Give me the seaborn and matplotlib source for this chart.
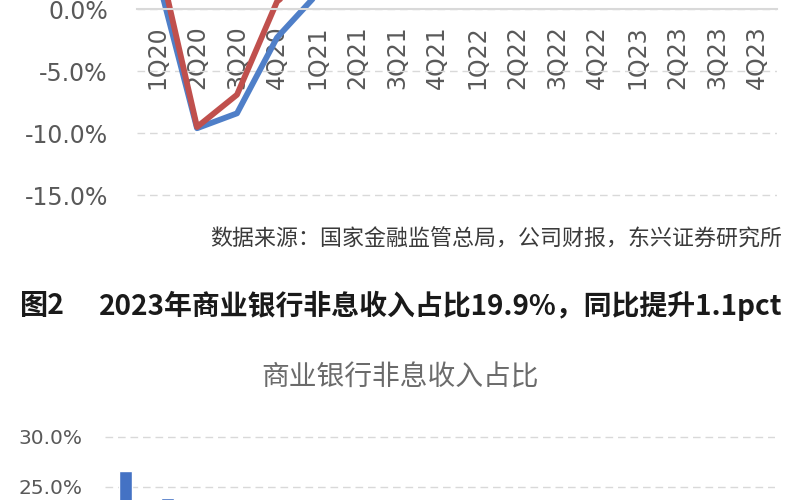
import matplotlib
matplotlib.use("Agg")
import matplotlib.pyplot as plt
import seaborn as sns
import pandas as pd
from matplotlib.ticker import FuncFormatter

quarters = ["1Q20", "2Q20", "3Q20", "4Q20", "1Q21", "2Q21", "3Q21", "4Q21",
            "1Q22", "2Q22", "3Q22", "4Q22", "1Q23", "2Q23", "3Q23", "4Q23"]
# top chart: two yoy growth series (only the dip is visible in the crop)
red_vals = [4.6, -9.5, -6.9, 0.6, 3.2, 4.5, 6.0, 6.5, 5.5, 6.0, 5.0, 4.0, 3.0, 2.5, 2.0, 1.8]
blue_vals = [2.8, -9.6, -8.4, -2.3, 1.2, 3.5, 5.0, 5.8, 5.0, 5.5, 4.6, 3.6, 2.8, 2.2, 1.9, 1.6]
# bottom chart: non-interest income share (%)
share_vals = [26.6, 23.9, 22.2, 21.0, 23.3, 22.0, 21.0, 20.4,
              23.1, 21.1, 19.7, 18.8, 22.0, 21.2, 20.3, 19.9]

caption = "数据来源：国家金融监管总局，公司财报，东兴证券研究所"
fig_no = "图2"
fig_title = "2023年商业银行非息收入占比19.9%，同比提升1.1pct"
sub_title = "商业银行非息收入占比"

sns.set_style("white")
cjk = ["Noto Sans CJK SC", "DejaVu Sans"]
tick_color = "#595959"
grid_color = "#d9d9d9"
pct = FuncFormatter(lambda v, p: f"{v:.1f}%")

fig = plt.figure(figsize=(8, 5), dpi=100)

# ---- top line chart (cropped) ----
ax1 = fig.add_axes([137 / 800, 1 - 199 / 500, 640 / 800, 199 / 500])
df_top = pd.DataFrame({"q": quarters, "blue": blue_vals, "red": red_vals})
sns.lineplot(data=df_top, x="q", y="blue", color="#4F7FC8", linewidth=4.2, sort=False, ax=ax1)
sns.lineplot(data=df_top, x="q", y="red", color="#C0504D", linewidth=4.2, sort=False, ax=ax1)
ax1.set_ylim(-15.3, 0.73)
ax1.set_xlim(-0.5, len(quarters) - 0.5)
ax1.set_yticks([-15, -10, -5, 0])
ax1.yaxis.set_major_formatter(pct)
ax1.set_xlabel("")
ax1.set_ylabel("")
for s in ["top", "right", "left"]:
    ax1.spines[s].set_visible(False)
ax1.spines["bottom"].set_position(("data", 0))
ax1.spines["bottom"].set_color(grid_color)
ax1.spines["bottom"].set_linewidth(1.5)
ax1.yaxis.grid(True, linestyle=(0, (5.5, 3.5)), color=grid_color, linewidth=1)
ax1.set_axisbelow(True)
ax1.tick_params(axis="y", length=0, pad=21, labelsize=17, labelcolor=tick_color)
ax1.tick_params(axis="x", length=0, pad=12, labelsize=17, labelcolor=tick_color, labelrotation=90)

# ---- text between charts ----
fig.text(782 / 800, 1 - 240 / 500, caption, ha="right", va="center",
         fontsize=15.8, color="#3a3a3a", family=cjk)
fig.text(20 / 800, 1 - 306 / 500, fig_no, ha="left", va="center",
         fontsize=20.3, fontweight="bold", color="#1a1a1a", family=cjk)
fig.text(782 / 800, 1 - 306 / 500, fig_title, ha="right", va="center",
         fontsize=20.1, fontweight="bold", color="#1a1a1a", family=cjk)
fig.text(400 / 800, 1 - 378 / 500, sub_title, ha="center", va="center",
         fontsize=20, color="#6b6b6b", family=cjk)

# ---- bottom bar chart (cropped) ----
ax2 = fig.add_axes([105 / 800, 0, 670 / 800, 68 / 500])
df_bot = pd.DataFrame({"q": quarters, "share": share_vals})
sns.barplot(data=df_bot, x="q", y="share", color="#4472C4", width=0.31,
            saturation=1, ax=ax2)
ax2.set_ylim(23.7, 30.5)
ax2.set_xlim(-0.5, len(quarters) - 0.5)
ax2.set_yticks([25, 30])
ax2.yaxis.set_major_formatter(pct)
ax2.set_xlabel("")
ax2.set_ylabel("")
ax2.set_xticks([])
for s in ["top", "right", "left", "bottom"]:
    ax2.spines[s].set_visible(False)
ax2.yaxis.grid(True, linestyle=(0, (5.5, 3.5)), color=grid_color, linewidth=1)
ax2.set_axisbelow(True)
ax2.tick_params(axis="y", length=0, pad=16, labelsize=14.5, labelcolor=tick_color)

fig.savefig("out.png", dpi=100)
plt.close(fig)
